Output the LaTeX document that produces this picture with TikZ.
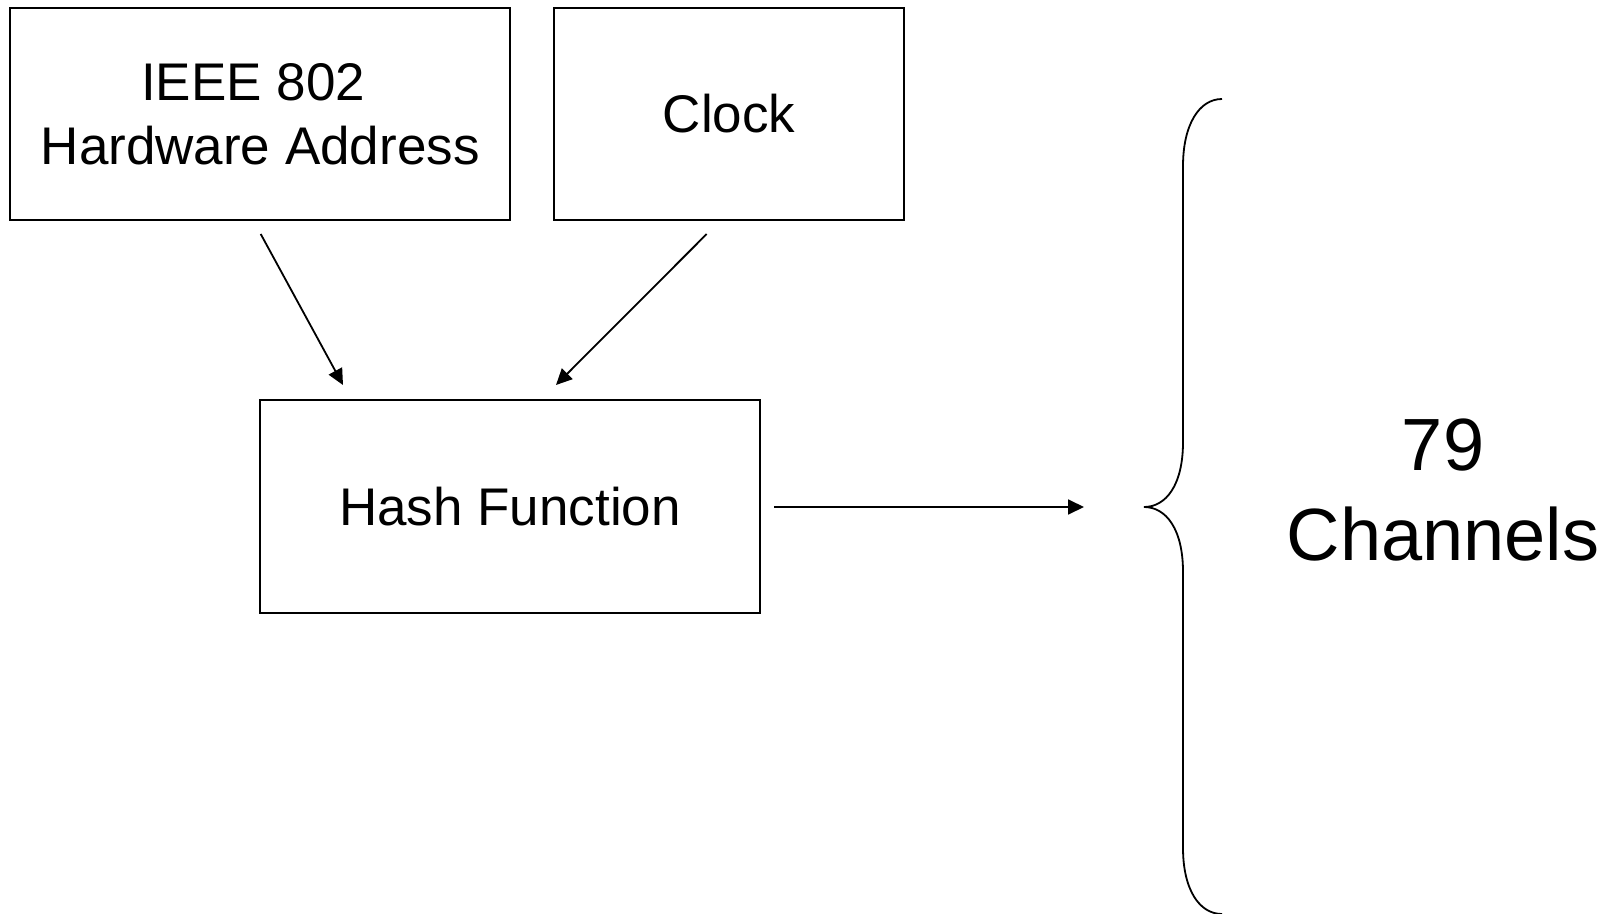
\documentclass[tikz,border=0pt]{standalone}
\usepackage{fontspec}
\setmainfont{Liberation Sans}
\usetikzlibrary{arrows.meta}

\begin{document}
\begin{tikzpicture}[x=0.5pt, y=-0.5pt, line width=0.9pt,
    every node/.style = {shape=rectangle, align=center, inner sep=0pt},
    block/.style = {draw, minimum height=106pt, font=\fontsize{26.5}{32}\selectfont},
    feed/.style = {-{Triangle[length=8pt, width=7.5pt]}}]
    \useasboundingbox (0,0) rectangle (1610,914);
    % inputs and the hash block
    \node[block, minimum width=250pt] (ieee) at (260.2,114) {IEEE 802\hbox to 7pt{}\\Hardware Address};
    \node[block, minimum width=175pt] (clock) at (729,114) {Clock};
    \node[block, minimum width=250pt, minimum height=106.5pt] (hash) at (510,506.5) {Hash Function};
    % arrow ends
    \coordinate (ieee out) at (260.7,234);
    \coordinate (clock out) at (706.7,234);
    \coordinate (hash in a) at (343,385);
    \coordinate (hash in b) at (556,385);
    \coordinate (hash out) at (774,507);
    \coordinate (chan in) at (1084,507);
    \draw[feed] (ieee out) -- (hash in a);
    \draw[feed] (clock out) -- (hash in b);
    \draw[feed] (hash out) -- (chan in);
    % the brace
    \draw (1222,99) .. controls (1199,99) and (1183,125) .. (1183,166)
        -- (1183,442) .. controls (1183,485) and (1166,507) .. (1144,507)
        .. controls (1166,507) and (1183,529) .. (1183,572)
        -- (1183,848) .. controls (1183,889) and (1199,914) .. (1222,914);
    \node[font=\fontsize{37}{45}\selectfont] (chan) at (1443,490) {79\\Channels};
\end{tikzpicture}
\end{document}
